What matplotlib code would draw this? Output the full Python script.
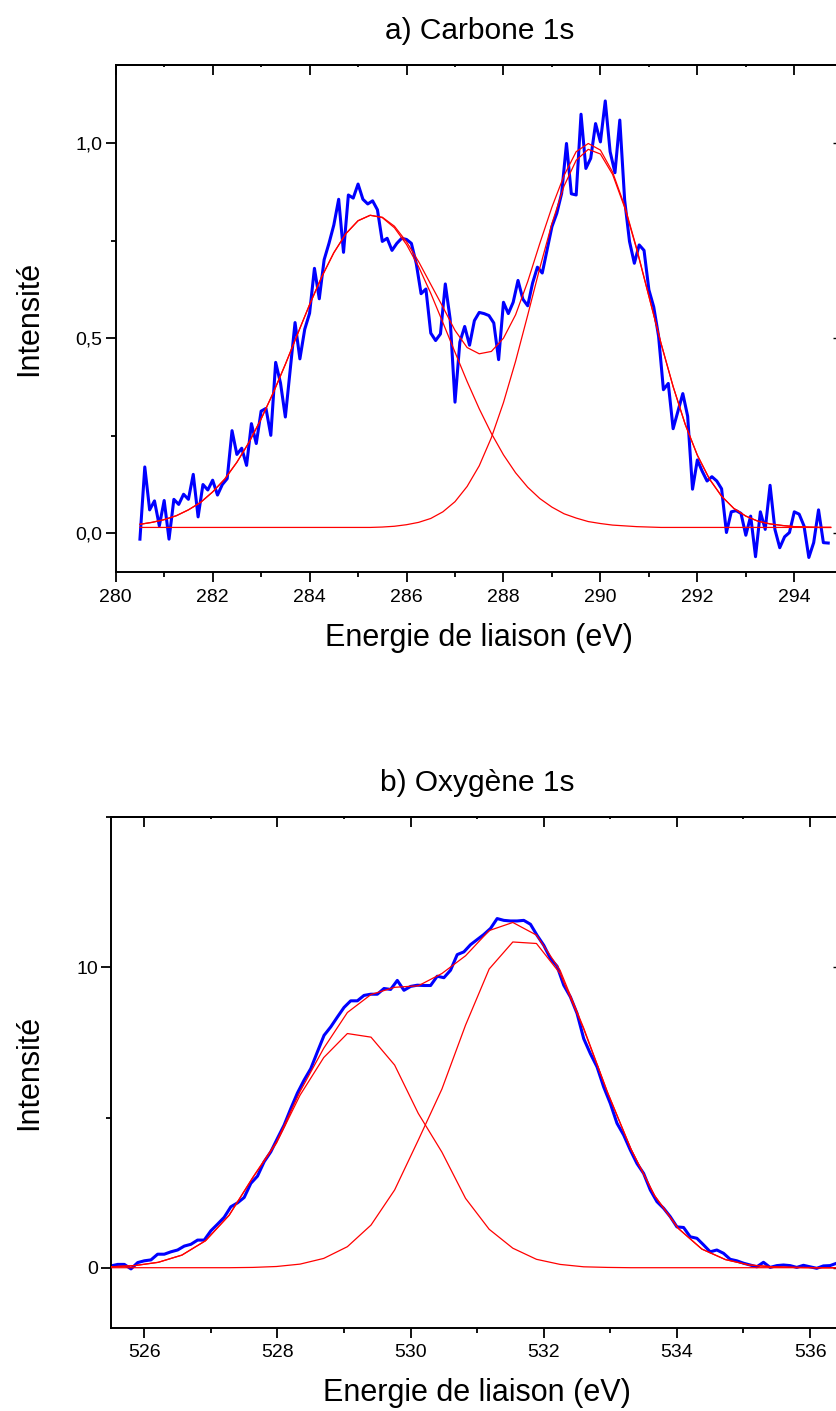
import numpy as np
import matplotlib
matplotlib.use("Agg")
import matplotlib.pyplot as plt
from matplotlib.ticker import MultipleLocator, FuncFormatter, NullFormatter

plt.rcParams['font.family'] = ['Liberation Sans', 'DejaVu Sans']

# --- a) C 1s : measured spectrum, 0.1 eV channels starting at 280.5 eV
c1s_start, c1s_step = 280.5, 0.1
c1s_counts = [
    -0.015, 0.170, 0.060, 0.083, 0.019, 0.084, -0.015, 0.087, 0.074, 0.100,
    0.087, 0.151, 0.042, 0.125, 0.111, 0.136, 0.098, 0.125, 0.140, 0.263,
    0.202, 0.218, 0.174, 0.281, 0.230, 0.313, 0.320, 0.251, 0.438, 0.385,
    0.298, 0.419, 0.540, 0.447, 0.523, 0.564, 0.679, 0.601, 0.701, 0.743,
    0.790, 0.856, 0.720, 0.867, 0.859, 0.895, 0.856, 0.844, 0.852, 0.829,
    0.748, 0.756, 0.725, 0.743, 0.756, 0.753, 0.743, 0.692, 0.614, 0.626,
    0.513, 0.494, 0.511, 0.639, 0.549, 0.336, 0.490, 0.530, 0.482, 0.545,
    0.566, 0.563, 0.558, 0.539, 0.445, 0.592, 0.563, 0.592, 0.648, 0.600,
    0.583, 0.641, 0.682, 0.667, 0.726, 0.786, 0.820, 0.871, 0.999, 0.870,
    0.867, 1.074, 0.935, 0.961, 1.050, 1.003, 1.108, 0.978, 0.924, 1.059,
    0.854, 0.748, 0.692, 0.739, 0.725, 0.624, 0.580, 0.505, 0.368, 0.384,
    0.268, 0.313, 0.358, 0.300, 0.113, 0.188, 0.159, 0.134, 0.145, 0.134,
    0.114, 0.002, 0.055, 0.058, 0.051, -0.005, 0.044, -0.060, 0.055, 0.010,
    0.123, 0.010, -0.037, -0.009, 0.002, 0.055, 0.049, 0.019, -0.062, -0.024,
    0.060, -0.024, -0.025,
]

# fitted curves, 0.25 eV steps starting at 280.5 eV
c1s_fit_start, c1s_fit_step = 280.5, 0.25
c1s_peak1 = [
    0.023, 0.028, 0.035, 0.045, 0.060, 0.079, 0.106, 0.139, 0.182, 0.233,
    0.293, 0.360, 0.433, 0.510, 0.586, 0.657, 0.719, 0.768, 0.801, 0.815,
    0.809, 0.783, 0.740, 0.683, 0.615, 0.540, 0.464, 0.389, 0.319, 0.256,
    0.201, 0.155, 0.118, 0.089, 0.067, 0.050, 0.039, 0.030, 0.025, 0.021,
    0.019, 0.017, 0.016, 0.015, 0.015, 0.015, 0.015, 0.015, 0.015, 0.015,
    0.015, 0.015, 0.015, 0.015, 0.015, 0.015, 0.015, 0.015,
]
c1s_peak2 = [
    0.015, 0.015, 0.015, 0.015, 0.015, 0.015, 0.015, 0.015, 0.015, 0.015,
    0.015, 0.015, 0.015, 0.015, 0.015, 0.015, 0.015, 0.015, 0.015, 0.015,
    0.016, 0.018, 0.022, 0.028, 0.038, 0.055, 0.081, 0.120, 0.173, 0.245,
    0.335, 0.441, 0.559, 0.680, 0.794, 0.890, 0.956, 0.984, 0.972, 0.920,
    0.835, 0.727, 0.607, 0.487, 0.376, 0.279, 0.200, 0.139, 0.095, 0.064,
    0.044, 0.031, 0.024, 0.020, 0.017, 0.016, 0.015, 0.015,
]
c1s_envelope = [
    0.023, 0.028, 0.035, 0.045, 0.060, 0.079, 0.106, 0.139, 0.182, 0.233,
    0.293, 0.360, 0.433, 0.510, 0.586, 0.657, 0.719, 0.768, 0.801, 0.815,
    0.810, 0.787, 0.747, 0.696, 0.638, 0.580, 0.520, 0.476, 0.460, 0.466,
    0.500, 0.560, 0.645, 0.743, 0.836, 0.917, 0.978, 0.999, 0.982, 0.926,
    0.839, 0.729, 0.608, 0.487, 0.376, 0.279, 0.200, 0.139, 0.095, 0.064,
    0.044, 0.031, 0.024, 0.020, 0.017, 0.016, 0.015, 0.015,
]

# --- b) O 1s : measured spectrum, 0.1 eV channels starting at 525.5 eV
o1s_start, o1s_step = 525.5, 0.1
o1s_counts = [
    0.06, 0.11, 0.11, -0.04, 0.17, 0.23, 0.26, 0.45, 0.45, 0.53,
    0.59, 0.72, 0.78, 0.92, 0.92, 1.23, 1.45, 1.68, 2.03, 2.16,
    2.34, 2.81, 3.05, 3.53, 3.86, 4.31, 4.75, 5.30, 5.82, 6.25,
    6.63, 7.19, 7.74, 8.02, 8.35, 8.67, 8.89, 8.89, 9.07, 9.11,
    9.11, 9.30, 9.27, 9.57, 9.24, 9.37, 9.41, 9.40, 9.40, 9.71,
    9.66, 9.91, 10.43, 10.52, 10.76, 10.93, 11.10, 11.30, 11.63, 11.57,
    11.55, 11.55, 11.57, 11.44, 11.07, 10.74, 10.30, 10.04, 9.41, 9.02,
    8.47, 7.63, 7.13, 6.69, 6.02, 5.47, 4.81, 4.42, 3.92, 3.47,
    3.14, 2.59, 2.20, 1.98, 1.70, 1.36, 1.34, 1.03, 0.98, 0.76,
    0.53, 0.59, 0.48, 0.28, 0.23, 0.15, 0.09, 0.03, 0.18, 0.01,
    0.07, 0.09, 0.07, 0.01, 0.08, 0.03, -0.02, 0.06, 0.07, 0.15,
]

# fitted curves, 0.355 eV steps starting at 525.5 eV
o1s_fit_start, o1s_fit_step = 525.5, 0.355
o1s_peak1 = [
    0.03, 0.07, 0.18, 0.42, 0.90, 1.75, 3.00, 4.15, 5.75, 7.00,
    7.80, 7.68, 6.75, 5.14, 3.85, 2.31, 1.28, 0.65, 0.28, 0.11,
    0.03, 0.01, 0.0, 0.0, 0.0, 0.0, 0.0, 0.0, 0.0, 0.0,
    0.0, 0.0,
]
o1s_peak2 = [
    0.0, 0.0, 0.0, 0.0, 0.0, 0.0, 0.01, 0.04, 0.12, 0.31,
    0.70, 1.42, 2.59, 4.25, 5.95, 8.08, 9.95, 10.85, 10.80, 9.80,
    7.95, 5.85, 3.95, 2.40, 1.31, 0.62, 0.27, 0.09, 0.03, 0.01,
    0.0, 0.0,
]
o1s_envelope = [
    0.03, 0.07, 0.18, 0.42, 0.90, 1.75, 3.01, 4.19, 5.87, 7.31,
    8.50, 9.10, 9.34, 9.39, 9.80, 10.39, 11.23, 11.50, 11.08, 9.91,
    7.98, 5.86, 3.95, 2.40, 1.31, 0.62, 0.27, 0.09, 0.03, 0.01,
    0.0, 0.0,
]


def energy_axis(start, step, values):
    return start + step * np.arange(len(values))


def comma(v, pos):
    return f"{v:.1f}".replace('.', ',')


def style_axes(ax, xmaj, xmin, ymaj, ymin, yfmt):
    ax.xaxis.set_major_locator(MultipleLocator(xmaj))
    ax.xaxis.set_minor_locator(MultipleLocator(xmin))
    ax.yaxis.set_major_locator(MultipleLocator(ymaj))
    ax.yaxis.set_minor_locator(MultipleLocator(ymin))
    ax.yaxis.set_major_formatter(yfmt)
    ax.tick_params(which='major', direction='out', length=7, width=1.3,
                   labelsize=14)
    ax.tick_params(which='minor', direction='out', length=3.8, width=1.3)
    ax.tick_params(axis='x', which='major', pad=5)
    ax.tick_params(axis='y', which='major', pad=2.5)
    for sp in ax.spines.values():
        sp.set_linewidth(1.4)

    # top and right axes only carry inward ticks
    top = ax.secondary_xaxis('top')
    top.xaxis.set_major_locator(MultipleLocator(xmaj))
    top.xaxis.set_minor_locator(MultipleLocator(xmin))
    top.xaxis.set_major_formatter(NullFormatter())
    top.tick_params(which='major', direction='in', length=7, width=1.3)
    top.tick_params(which='minor', direction='in', length=1.5, width=1.3)
    top.spines['top'].set_linewidth(1.4)

    right = ax.secondary_yaxis('right')
    right.yaxis.set_major_locator(MultipleLocator(ymaj))
    right.yaxis.set_minor_locator(MultipleLocator(ymin))
    right.yaxis.set_major_formatter(NullFormatter())
    right.tick_params(which='major', direction='in', length=7, width=1.0)
    right.tick_params(which='minor', direction='in', length=1.5, width=1.0)


fig = plt.figure(figsize=(8.36, 14.11), dpi=100)
ax1 = fig.add_axes([0.1384, 0.5944, 0.8697, 0.3595])
ax2 = fig.add_axes([0.1328, 0.0590, 0.8760, 0.3617])

# panel a
ax1.plot(energy_axis(c1s_start, c1s_step, c1s_counts), c1s_counts,
         color='#0000ff', lw=2.2, zorder=2)
xf = energy_axis(c1s_fit_start, c1s_fit_step, c1s_peak1)
for curve in (c1s_peak1, c1s_peak2, c1s_envelope):
    ax1.plot(xf, curve, color='#ff0000', lw=0.9, zorder=3)
ax1.set_xlim(280, 295)
ax1.set_ylim(-0.1, 1.2)
style_axes(ax1, 2, 1, 0.5, 0.25, FuncFormatter(comma))
ax1.set_title('a) Carbone 1s', fontsize=21.5, pad=19)
ax1.set_xlabel('Energie de liaison (eV)', fontsize=22, labelpad=12)
ax1.set_ylabel('Intensité', fontsize=22)
ax1.yaxis.set_label_coords(-0.099, 0.5)

# panel b
ax2.plot(energy_axis(o1s_start, o1s_step, o1s_counts), o1s_counts,
         color='#0000ff', lw=2.2, zorder=2)
xf = energy_axis(o1s_fit_start, o1s_fit_step, o1s_peak1)
for curve in (o1s_peak1, o1s_peak2, o1s_envelope):
    ax2.plot(xf, curve, color='#ff0000', lw=0.9, zorder=3)
ax2.set_xlim(525.5, 536.5)
ax2.set_ylim(-2, 15)
style_axes(ax2, 2, 1, 10, 5, FuncFormatter(lambda v, p: f"{v:.0f}"))
ax2.set_title('b) Oxygène 1s', fontsize=21.5, pad=19)
ax2.set_xlabel('Energie de liaison (eV)', fontsize=22, labelpad=12)
ax2.set_ylabel('Intensité', fontsize=22)
ax2.yaxis.set_label_coords(-0.092, 0.5)

fig.savefig('out.png', dpi=100)
